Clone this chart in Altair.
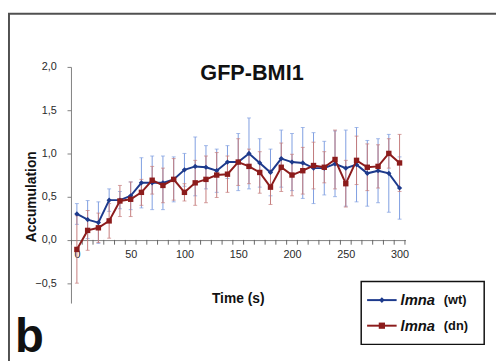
import altair as alt
import pandas as pd

time_s = list(range(0, 301, 10))
wt = [0.30, 0.235, 0.20, 0.46, 0.46, 0.51, 0.66, 0.66, 0.66, 0.70, 0.81, 0.85, 0.84, 0.80, 0.90, 0.90,
      1.00, 0.89, 0.78, 0.94, 0.90, 0.89, 0.83, 0.83, 0.88, 0.83, 0.87, 0.77, 0.80, 0.77, 0.60]
wt_err = [0.12, 0.22, 0.24, 0.13, 0.10, 0.16, 0.29, 0.31, 0.31, 0.26, 0.19, 0.34, 0.25, 0.25, 0.19, 0.33,
          0.41, 0.28, 0.27, 0.33, 0.33, 0.41, 0.41, 0.31, 0.38, 0.44, 0.43, 0.38, 0.37, 0.45, 0.36]
dn = [-0.11, 0.11, 0.14, 0.22, 0.45, 0.47, 0.55, 0.69, 0.63, 0.70, 0.55, 0.66, 0.70, 0.75, 0.76, 0.90,
      0.85, 0.78, 0.61, 0.84, 0.75, 0.80, 0.86, 0.84, 0.93, 0.65, 0.92, 0.84, 0.85, 1.00, 0.89]
dn_err = [0.39, 0.23, 0.17, 0.20, 0.18, 0.20, 0.15, 0.16, 0.20, 0.24, 0.10, 0.26, 0.27, 0.26, 0.21, 0.27,
          0.20, 0.24, 0.20, 0.28, 0.24, 0.27, 0.27, 0.18, 0.34, 0.27, 0.28, 0.27, 0.25, 0.17, 0.33]

x_labels = [0, 50, 100, 150, 200, 250, 300]
y_ticks = [-0.5, 0.0, 0.5, 1.0, 1.5, 2.0]

rows = []
for t, v, e in zip(time_s, wt, wt_err):
    rows.append({"series": "wt", "t": t, "v": v, "e": e})
for t, v, e in zip(time_s, dn, dn_err):
    rows.append({"series": "dn", "t": t, "v": v, "e": e})
df = pd.DataFrame(rows)

FONT = "Liberation Sans"
AXIS_C = "#808080"
xs = alt.Scale(domain=[-5.5, 305.5], nice=False, zero=False)
ys = alt.Scale(domain=[-0.73, 2.0], nice=False, zero=False)

X = alt.X("t:Q", scale=xs, axis=alt.Axis(values=x_labels, ticks=False, tickSize=0, grid=False, title=None,
                                          offset=-64, domainColor=AXIS_C, labelFontSize=11, labelFont=FONT,
                                          labelColor="#2a2a2a", labelPadding=9))
Y = alt.Y("v:Q", scale=ys, axis=alt.Axis(values=y_ticks, grid=False, title=None, tickSize=4, tickColor=AXIS_C,
                                          domainColor=AXIS_C, labelFontSize=11, labelFont=FONT,
                                          labelColor="#2a2a2a", labelPadding=11,
                                          labelExpr="replace(format(datum.value, '.1f'), '.', ',')"))

base = alt.Chart(df)
one = alt.Data(values=[{}])


def series_layers(name, line_c, err_c, shape, size):
    s = base.transform_filter(alt.datum.series == name).transform_calculate(
        lo="datum.v - datum.e", hi="datum.v + datum.e")
    bars = s.mark_rule(color=err_c, strokeWidth=1).encode(x=alt.X("t:Q", scale=xs), y=alt.Y("lo:Q", scale=ys), y2="hi:Q")
    cap_lo = s.mark_tick(color=err_c, orient="horizontal", size=4, thickness=1).encode(
        x=alt.X("t:Q", scale=xs), y=alt.Y("lo:Q", scale=ys))
    cap_hi = s.mark_tick(color=err_c, orient="horizontal", size=4, thickness=1).encode(
        x=alt.X("t:Q", scale=xs), y=alt.Y("hi:Q", scale=ys))
    line = s.mark_line(color=line_c, strokeWidth=2).encode(x=X, y=Y)
    pts = s.mark_point(color=line_c, filled=True, opacity=1, shape=shape, size=size).encode(
        x=alt.X("t:Q", scale=xs), y=alt.Y("v:Q", scale=ys))
    return [bars, cap_lo, cap_hi], [line, pts]

wt_err_l, wt_line_l = series_layers("wt", "#1d3a8c", "#7d9de0", "diamond", 28)
dn_err_l, dn_line_l = series_layers("dn", "#8c1c1c", "#c57b7b", "square", 30)

# category-boundary tick marks on the x axis (below the zero line)
ticks_a = base.transform_filter(alt.datum.series == "wt").transform_calculate(
    b="datum.t + 5", y0="0", y1="-0.055").mark_rule(color="#666666", strokeWidth=1).encode(
    x=alt.X("b:Q", scale=xs), y=alt.Y("y0:Q", scale=ys), y2="y1:Q")
ticks_b = base.transform_filter((alt.datum.series == "wt") & (alt.datum.t == 0)).transform_calculate(
    b="datum.t - 5", y0="0", y1="-0.055").mark_rule(color="#666666", strokeWidth=1).encode(
    x=alt.X("b:Q", scale=xs), y=alt.Y("y0:Q", scale=ys), y2="y1:Q")

# frame
frame_left = alt.Chart(one).mark_rule(color="#505050", strokeWidth=2).encode(
    x=alt.value(-63), y=alt.value(-54), y2=alt.value(300))
frame_top = alt.Chart(one).mark_rule(color="#505050", strokeWidth=2).encode(
    x=alt.value(-64), x2=alt.value(440), y=alt.value(-54))


def txt(text, x, y, size, weight="bold", style="normal", align="center", angle=0, font=FONT, baseline="middle"):
    kw = dict(text=text, font=font, fontSize=size, fontWeight=weight, fontStyle=style, align=align,
              baseline=baseline, color="#111111")
    if angle:
        kw["angle"] = angle
    return alt.Chart(one).mark_text(**kw).encode(x=alt.value(x), y=alt.value(y))

title = txt("GFP-BMI1", 184, 6, 22)
ytitle = txt("Accumulation", -40, 132, 14, angle=270)
xtitle = txt("Time (s)", 170, 236, 14)
letter = txt("b", -57, 290, 48, baseline="alphabetic", align="left")

# legend
leg_box = alt.Chart(one).mark_rect(fill="white", stroke="#111111", strokeWidth=1.5).encode(
    x=alt.value(295), x2=alt.value(420), y=alt.value(218), y2=alt.value(282))
leg = [leg_box]
for yy, col, shape, lab in [(237, "#1d3a8c", "diamond", "(wt)"), (263, "#8c1c1c", "square", "(dn)")]:
    leg.append(alt.Chart(one).mark_rule(color=col, strokeWidth=2).encode(
        x=alt.value(301), x2=alt.value(331), y=alt.value(yy)))
    leg.append(alt.Chart(one).mark_point(color=col, filled=True, opacity=1, shape=shape,
                                         size=40 if shape == "square" else 32).encode(
        x=alt.value(316), y=alt.value(yy)))
    leg.append(txt("lmna", 335, yy, 15, style="italic", align="left"))
    leg.append(txt(lab, 379, yy, 13, align="left"))

chart = alt.layer(
    frame_left, frame_top,
    *wt_err_l, *dn_err_l,
    ticks_a, ticks_b,
    *wt_line_l, *dn_line_l,
    title, ytitle, xtitle, letter,
    *leg,
).properties(
    width=340, height=240,
    autosize=alt.AutoSizeParams(type="none"),
    padding={"left": 64, "top": 57, "right": 92, "bottom": 56},
    background="white",
).configure_view(stroke=None)

chart.save("out.html", embed_options={"renderer": "svg", "actions": False})
